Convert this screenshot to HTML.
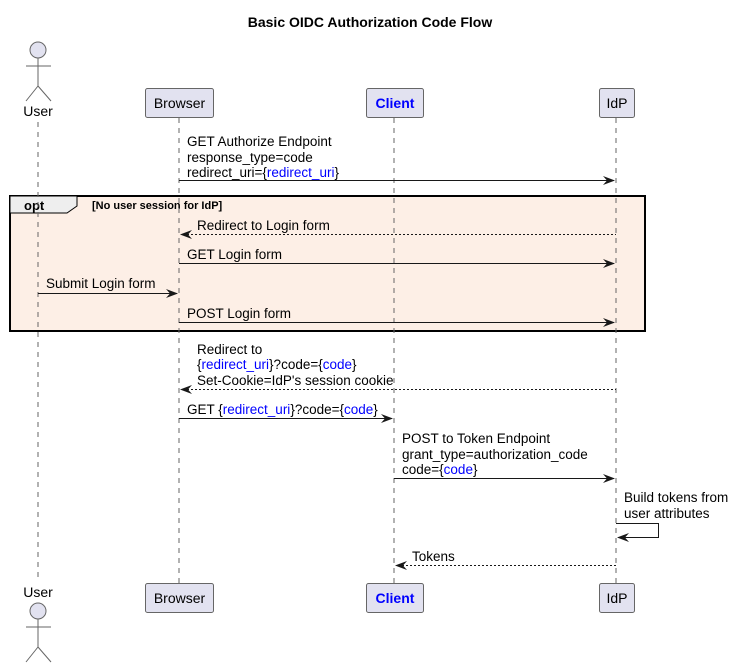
<!DOCTYPE html>
<html><head><meta charset="utf-8"><style>
html,body{margin:0;padding:0;background:#fff;}
svg{display:block;font-family:"Liberation Sans",sans-serif;}
.t{font-size:13.5px;fill:#000;}
.b{fill:#0000ff;}
.ll{stroke:#666;stroke-width:1;stroke-dasharray:5,5;}
.m{stroke:#181818;stroke-width:1;fill:none;}
.d{stroke:#181818;stroke-width:1;stroke-dasharray:2,2;fill:none;}
.box{fill:#e2e2f0;stroke:#666;stroke-width:1;}
.ah{fill:#181818;}
</style></head><body>
<svg width="741" height="663" viewBox="0 0 741 663" xmlns="http://www.w3.org/2000/svg">
<text x="370" y="27" text-anchor="middle" style="font-size:14px;font-weight:bold">Basic OIDC Authorization Code Flow</text>

<rect x="10" y="196" width="635" height="135" fill="#fdefe6" stroke="#000" stroke-width="2"/>
<path d="M10 196 H77 V206 L67 213 H10 Z" fill="#eeeeee" stroke="#000" stroke-width="1"/>
<text x="24" y="210" style="font-size:13px;font-weight:bold">opt</text>
<text x="92" y="209" style="font-size:11px;font-weight:bold">[No user session for IdP]</text>

<line class="ll" x1="38" y1="122" x2="38" y2="580"/>
<line class="ll" x1="179" y1="118" x2="179" y2="583"/>
<line class="ll" x1="394" y1="118" x2="394" y2="583"/>
<line class="ll" x1="616" y1="118" x2="616" y2="583"/>

<circle cx="38" cy="50" r="8" fill="#e2e2f0" stroke="#666"/>
<path d="M38 58 V86 M26 66 H51 M38 86 L26 101 M38 86 L51 101" stroke="#666" fill="none"/>
<text class="t" x="38" y="116" text-anchor="middle" style="font-size:14px">User</text>
<rect class="box" x="145.5" y="88.5" width="68" height="29" rx="2"/>
<text class="t" x="179.5" y="108" text-anchor="middle" style="font-size:14px">Browser</text>
<rect class="box" x="366.5" y="88.5" width="57" height="29" rx="2"/>
<text x="395" y="108" text-anchor="middle" style="font-size:14px;font-weight:bold;fill:#0000ff">Client</text>
<rect class="box" x="599.5" y="88.5" width="35" height="29" rx="2"/>
<text class="t" x="617" y="108" text-anchor="middle" style="font-size:14px">IdP</text>

<text class="t" x="38" y="597" text-anchor="middle" style="font-size:14px">User</text>
<circle cx="38" cy="611" r="8" fill="#e2e2f0" stroke="#666"/>
<path d="M38 619 V647 M26 627 H51 M38 647 L26 662 M38 647 L51 662" stroke="#666" fill="none"/>
<rect class="box" x="145.5" y="583.5" width="68" height="29" rx="2"/>
<text class="t" x="179.5" y="603" text-anchor="middle" style="font-size:14px">Browser</text>
<rect class="box" x="366.5" y="583.5" width="57" height="29" rx="2"/>
<text x="395" y="603" text-anchor="middle" style="font-size:14px;font-weight:bold;fill:#0000ff">Client</text>
<rect class="box" x="599.5" y="583.5" width="35" height="29" rx="2"/>
<text class="t" x="617" y="603" text-anchor="middle" style="font-size:14px">IdP</text>

<text class="t" x="187" y="146">GET Authorize Endpoint</text>
<text class="t" x="187" y="162">response_type=code</text>
<text class="t" x="187" y="177">redirect_uri={<tspan class="b">redirect_uri</tspan>}</text>
<line class="m" x1="179" y1="180.5" x2="614" y2="180.5"/>
<path class="ah" d="M615 180.5 L603 176 L607 180.5 L603 185 Z"/>

<text class="t" x="197" y="230">Redirect to Login form</text>
<line class="d" x1="183" y1="234.5" x2="616" y2="234.5"/>
<path class="ah" d="M180 234.5 L192 230 L188 234.5 L192 239 Z"/>

<text class="t" x="187" y="259">GET Login form</text>
<line class="m" x1="179" y1="263.5" x2="614" y2="263.5"/>
<path class="ah" d="M615 263.5 L603 259 L607 263.5 L603 268 Z"/>

<text class="t" x="46" y="288">Submit Login form</text>
<line class="m" x1="38" y1="293.5" x2="177" y2="293.5"/>
<path class="ah" d="M178 293.5 L166 289 L170 293.5 L166 298 Z"/>

<text class="t" x="187" y="318">POST Login form</text>
<line class="m" x1="179" y1="322.5" x2="614" y2="322.5"/>
<path class="ah" d="M615 322.5 L603 318 L607 322.5 L603 327 Z"/>

<text class="t" x="197" y="354">Redirect to</text>
<text class="t" x="197" y="369">{<tspan class="b">redirect_uri</tspan>}?code={<tspan class="b">code</tspan>}</text>
<text class="t" x="197" y="385">Set-Cookie=IdP's session cookie</text>
<line class="d" x1="183" y1="389.5" x2="616" y2="389.5"/>
<path class="ah" d="M180 389.5 L192 385 L188 389.5 L192 394 Z"/>

<text class="t" x="187" y="414">GET {<tspan class="b">redirect_uri</tspan>}?code={<tspan class="b">code</tspan>}</text>
<line class="m" x1="179" y1="418.5" x2="392" y2="418.5"/>
<path class="ah" d="M393 418.5 L381 414 L385 418.5 L381 423 Z"/>

<text class="t" x="402" y="443">POST to Token Endpoint</text>
<text class="t" x="402" y="459">grant_type=authorization_code</text>
<text class="t" x="402" y="474">code={<tspan class="b">code</tspan>}</text>
<line class="m" x1="394" y1="478.5" x2="614" y2="478.5"/>
<path class="ah" d="M615 478.5 L603 474 L607 478.5 L603 483 Z"/>

<text class="t" x="624" y="502">Build tokens from</text>
<text class="t" x="624" y="518">user attributes</text>
<path class="m" d="M616 523.5 H658.5 V537.5 H618"/>
<path class="ah" d="M617 537.5 L629 533 L625 537.5 L629 542 Z"/>

<text class="t" x="412" y="561">Tokens</text>
<line class="d" x1="398" y1="565.5" x2="616" y2="565.5"/>
<path class="ah" d="M395 565.5 L407 561 L403 565.5 L407 570 Z"/>
</svg>
</body></html>
